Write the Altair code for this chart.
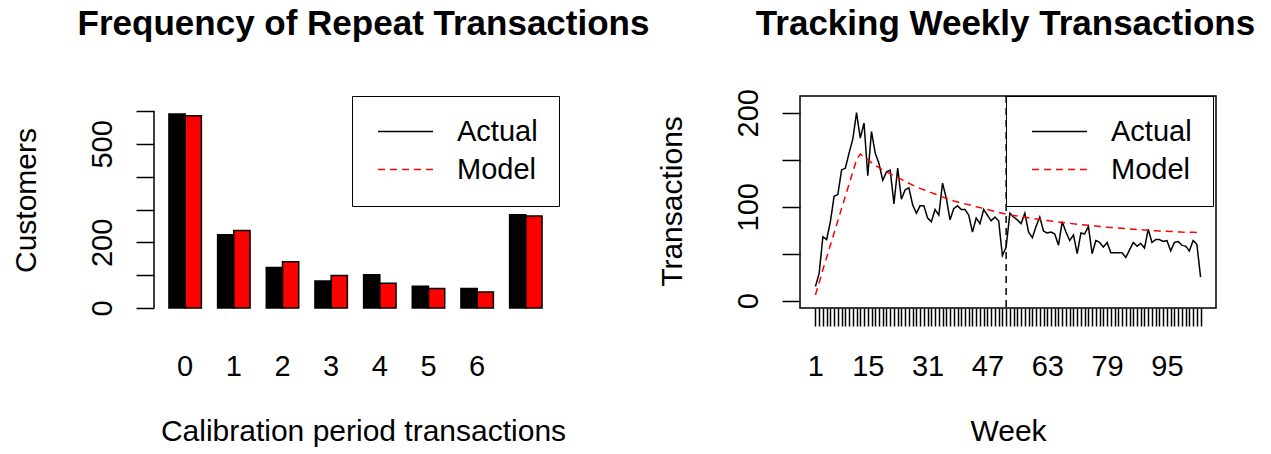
import altair as alt
import pandas as pd

FONT = "Liberation Sans"

# ---- calibration-period frequency of repeat transactions ----
freq_bins = ["0", "1", "2", "3", "4", "5", "6", "7+"]
freq_actual = [591, 223, 123, 82, 101, 66, 59, 284]
freq_model = [586, 236, 141, 99, 75, 59, 49, 280]

# ---- weekly transactions, actual vs. model ----
weeks = list(range(1, 105))
weekly_actual = [
    15, 29, 68, 65, 84, 111, 113, 139, 141, 157,
    172, 200, 173, 189, 133, 180, 157, 146, 128, 137,
    139, 103, 141, 108, 118, 120, 102, 93, 101, 101,
    88, 84, 97, 91, 125, 109, 86, 98, 101, 97,
    97, 91, 73, 88, 82, 97, 91, 85, 89, 85,
    48, 57, 93, 89, 86, 82, 93, 73, 67, 79,
    89, 74, 72, 73, 71, 59, 84, 73, 64, 70,
    50, 72, 71, 79, 50, 64, 62, 57, 62, 51,
    51, 51, 51, 46, 54, 62, 58, 61, 56, 76,
    62, 65, 65, 63, 64, 53, 62, 63, 59, 58,
    53, 64, 60, 25,
]
weekly_model = [
    6, 19, 33, 46, 59, 72, 85, 98, 111, 124,
    137, 150, 156, 153, 150, 147, 144, 141.5, 139, 137,
    135, 133, 131, 129, 127, 125, 123, 121, 119.5, 118,
    116.5, 115, 113.5, 112, 110.5, 109, 107.5, 106, 105, 104,
    103, 102, 101, 100, 99, 98, 97, 96, 95, 94,
    93, 92, 91.3, 90.6, 90, 89.4, 88.8, 88.2, 87.6, 87,
    86.4, 85.8, 85.3, 84.8, 84.3, 83.8, 83.3, 82.8, 82.3, 81.8,
    81.4, 81, 80.6, 80.2, 79.8, 79.4, 79, 78.6, 78.2, 77.9,
    77.6, 77.3, 77, 76.7, 76.4, 76.1, 75.8, 75.5, 75.2, 74.9,
    74.6, 74.4, 74.2, 74, 73.8, 73.6, 73.4, 73.2, 73, 72.9,
    72.8, 72.7, 72.6, 72.5,
]
calibration_end = 52
week_labels = [1, 15, 31, 47, 63, 79, 95]

series = ["Actual", "Model"]

freq_df = pd.DataFrame({
    "bin": freq_bins * 2,
    "series": ["Actual"] * len(freq_bins) + ["Model"] * len(freq_bins),
    "customers": freq_actual + freq_model,
})
weekly_df = pd.DataFrame({
    "week": weeks * 2,
    "series": ["Actual"] * len(weeks) + ["Model"] * len(weeks),
    "transactions": weekly_actual + weekly_model,
})

color_scale = alt.Scale(domain=series, range=["black", "red"])
dash_scale = alt.Scale(domain=series, range=[[1, 0], [7, 5]])

text_style = dict(labelFont=FONT, labelFontSize=29, labelColor="black",
                  titleFont=FONT, titleFontSize=30, titleFontWeight="normal",
                  titleColor="black")


def key_legend(x, y):
    return alt.Legend(
        title=None, orient="none", legendX=x, legendY=y,
        symbolType="M-2,0H2", symbolSize=756, symbolStrokeWidth=1.5,
        symbolOffset=18, labelOffset=37, labelFont=FONT, labelFontSize=29,
        labelColor="black", padding=21, rowPadding=8, strokeColor="black",
    )


def title(text, dx, offset):
    return alt.TitleParams(text=text, font=FONT, fontSize=35, fontWeight="bold",
                           color="black", anchor="middle", frame="group",
                           baseline="alphabetic", offset=offset, dx=dx)


# ---- left panel: grouped bars ----
bars = alt.Chart(freq_df).mark_bar(stroke="black", strokeWidth=1.5).encode(
    x=alt.X("bin:N", sort=freq_bins,
            scale=alt.Scale(paddingInner=1 / 3, paddingOuter=0.307),
            axis=alt.Axis(title="Calibration period transactions", ticks=False,
                          tickSize=0, domain=False, labelAngle=0,
                          labelBaseline="alphabetic", labelPadding=59,
                          labelExpr="datum.value == '7+' ? '' : datum.label",
                          titleBaseline="alphabetic", titleY=124, titleX=209,
                          **text_style)),
    xOffset=alt.XOffset("series:N", sort=series,
                        scale=alt.Scale(paddingInner=0, paddingOuter=0)),
    y=alt.Y("customers:Q",
            scale=alt.Scale(domain=[-24.4, 645.8], nice=False, zero=False),
            axis=alt.Axis(values=list(range(0, 700, 100)), tickCount=50,
                          domain=False, grid=False,
                          tickSize=18, tickWidth=1.5, tickColor="black",
                          labelExpr="indexof([0, 200, 500], datum.value) >= 0 ? datum.label : ''",
                          labelAngle=270, labelAlign="center",
                          labelBaseline="alphabetic", labelPadding=25,
                          labelOverlap=False, title="Customers", titleAngle=270,
                          titleBaseline="alphabetic", titleX=-119, titleY=104,
                          **text_style)),
    y2=alt.datum(0),
    fill=alt.Fill("series:N", scale=color_scale, legend=None),
)

axis_line = alt.Chart(pd.DataFrame({"v": [0]})).mark_rule(
    color="black", strokeWidth=1.5
).encode(x=alt.value(0), y=alt.datum(0), y2=alt.datum(600))

# line key for the bar colours (no marks of its own, only the legend)
bar_key = alt.Chart(freq_df).transform_filter("false").mark_line(strokeWidth=1.5).encode(
    x="bin:N",
    y="customers:Q",
    color=alt.Color("series:N", scale=color_scale, legend=key_legend(198, 0)),
    strokeDash=alt.StrokeDash("series:N", scale=dash_scale, legend=key_legend(198, 0)),
)

left = alt.layer(bars, axis_line, bar_key).properties(
    width=403, height=220,
    title=title("Frequency of Repeat Transactions", 8, 26),
    view=alt.ViewBackground(stroke="transparent"),
)

# ---- right panel: weekly tracking ----
lines = alt.Chart(weekly_df).mark_line(strokeWidth=1.5).encode(
    x=alt.X("week:Q",
            scale=alt.Scale(domain=[-3.12, 108.12], nice=False, zero=False),
            axis=alt.Axis(values=weeks, tickCount=500, format="d", domain=False,
                          grid=False, tickSize=18, tickWidth=1.5, tickColor="black",
                          labelExpr="indexof(%s, datum.value) >= 0 ? datum.label : ''" % week_labels,
                          labelBaseline="alphabetic", labelPadding=49,
                          labelOverlap=False, labelFlush=False,
                          title="Week", titleBaseline="alphabetic", titleY=132,
                          **text_style)),
    y=alt.Y("transactions:Q",
            scale=alt.Scale(domain=[-7.8, 217.8], nice=False, zero=False),
            axis=alt.Axis(values=[0, 50, 100, 150, 200], tickCount=50,
                          domain=False, grid=False,
                          tickSize=18, tickWidth=1.5, tickColor="black",
                          labelExpr="indexof([0, 100, 200], datum.value) >= 0 ? datum.label : ''",
                          labelAngle=270, labelAlign="center",
                          labelBaseline="alphabetic", labelPadding=25,
                          labelOverlap=False, title="Transactions", titleAngle=270,
                          titleBaseline="alphabetic", titleX=-119, titleY=105,
                          **text_style)),
    color=alt.Color("series:N", scale=color_scale, legend=key_legend(206, 0)),
    strokeDash=alt.StrokeDash("series:N", scale=dash_scale, legend=key_legend(206, 0)),
)

cal_line = alt.Chart(pd.DataFrame({"v": [0]})).mark_rule(
    color="black", strokeWidth=1.5, strokeDash=[7, 5]
).encode(x=alt.datum(calibration_end))

right = alt.layer(lines, cal_line).properties(
    width=416, height=212,
    title=title("Tracking Weekly Transactions", -2.5, 19),
    view=alt.ViewBackground(stroke="black", strokeWidth=1.5),
)

chart = alt.hconcat(left, right, spacing=243, bounds="flush").resolve_scale(
    color="independent", strokeDash="independent"
).resolve_legend(
    color="independent", strokeDash="independent"
).properties(
    padding={"left": 10, "top": 5, "right": 0, "bottom": 0},
    background="white",
).configure_view(stroke="transparent")

chart.save("out.html", embed_options={"renderer": "svg", "actions": False})
